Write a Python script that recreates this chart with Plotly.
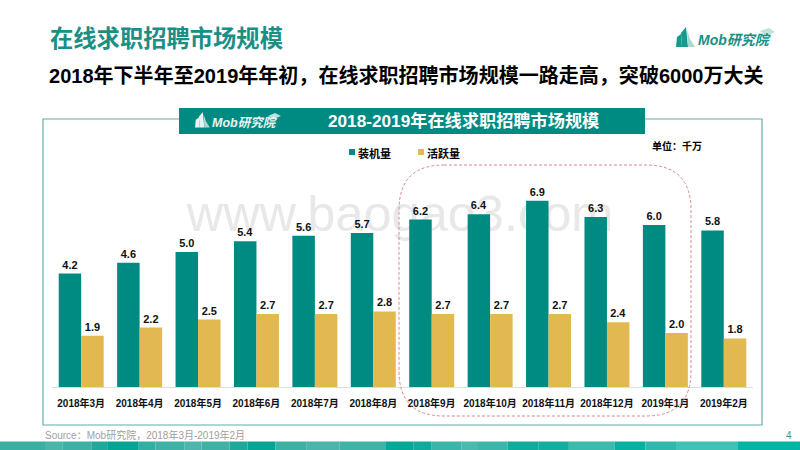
import plotly.graph_objects as go

months = ["2018年3月","2018年4月","2018年5月","2018年6月","2018年7月","2018年8月","2018年9月","2018年10月","2018年11月","2018年12月","2019年1月","2019年2月"]
installed = [4.2,4.6,5.0,5.4,5.6,5.7,6.2,6.4,6.9,6.3,6.0,5.8]
active = [1.9,2.2,2.5,2.7,2.7,2.8,2.7,2.7,2.7,2.4,2.0,1.8]
series_names = ["装机量","活跃量"]

W, H = 800, 450
TEAL = "#008b82"; GOLD = "#e2b850"; FONT = "Liberation Sans, Noto Sans CJK SC, sans-serif"
def X(p): return p / W
def Y(p): return 1 - p / H

fig = go.Figure()
fig.add_bar(x=months, y=installed, name=series_names[0], marker_color=TEAL, text=[f"{v:.1f}" for v in installed], showlegend=False)
fig.add_bar(x=months, y=active, name=series_names[1], marker_color=GOLD, text=[f"{v:.1f}" for v in active], showlegend=False)
fig.update_traces(textposition="outside", cliponaxis=False, textfont=dict(size=11, color="#111", family=FONT, weight="bold"), marker_line_width=0)

shapes, ann = [], []
def rect(x0, y0, x1, y1, fill=None, line=None, lw=1, layer="below", **kw):
    shapes.append(dict(type="rect", xref="paper", yref="paper", x0=X(x0), x1=X(x1), y0=Y(y0), y1=Y(y1),
                       fillcolor=fill or "rgba(0,0,0,0)", line=dict(color=line or "rgba(0,0,0,0)", width=lw if line else 0), layer=layer, **kw))
def text(t, x, y, size, color="#000", bold=True, anchor="left", italic=False):
    ann.append(dict(text=t, xref="paper", yref="paper", x=X(x - (2 if anchor == "left" else 0)), y=Y(y), xanchor=anchor, yanchor="middle", showarrow=False,
                    font=dict(size=size, color=color, family=FONT, weight="bold" if bold else "normal", style="italic" if italic else "normal")))
def poly(pts, fill):
    d = "M" + " L".join(f"{X(a):.5f},{Y(b):.5f}" for a, b in pts) + " Z"
    shapes.append(dict(type="path", xref="paper", yref="paper", path=d, fillcolor=fill, line=dict(width=0), layer="above"))

# watermark (behind the bars)
rect(180, 184, 620, 234, layer="below", label=dict(text="www.baogao3.com", textposition="middle center",
     font=dict(size=50.5, color="#e8e8e8", family=FONT)))

# panel frame
rect(43, 119, 762, 425, line="#62aeaa", lw=1.2)
rect(179, 108, 645, 134, fill=TEAL, layer="above")
text("2018-2019年在线求职招聘市场规模", 464, 121, 17.2, "#fff", anchor="center")

# bottom band
band_edges = [0,90,122,180,210,272,305,362,395,450,485,540,600,665,755,810,845,905,935,995,1055,1115,1205,1265,1325,1445,1568]
band_cols = ["#3aafa3","#4cb5aa","#3eb0a4","#1fa89b","#05a596","#33aea2","#3fb1a5","#4db5ab","#3fb1a5","#1fa99b","#06a697","#3cb2a6","#4bb5ab","#40b3a7","#03a898","#12aa9c","#3ab5a9","#4bb9ae","#3cb6aa","#0dac9d","#12ae9f","#3bbaae","#07b0a1","#2fb9ac","#40c2b6","#04b4a5"]
for i, c in enumerate(band_cols):
    rect(band_edges[i]*W/1568, 441.5, band_edges[i+1]*W/1568, 450, fill=c)

# highlight rounded box
x0, x1, y0, y1, r = 399, 691, 165, 416, 45
path = (f"M{X(x0+r)},{Y(y0)} L{X(x1-r)},{Y(y0)} Q{X(x1)},{Y(y0)} {X(x1)},{Y(y0+r)} L{X(x1)},{Y(y1-r)} Q{X(x1)},{Y(y1)} {X(x1-r)},{Y(y1)} "
        f"L{X(x0+r)},{Y(y1)} Q{X(x0)},{Y(y1)} {X(x0)},{Y(y1-r)} L{X(x0)},{Y(y0+r)} Q{X(x0)},{Y(y0)} {X(x0+r)},{Y(y0)} Z")
shapes.append(dict(type="path", xref="paper", yref="paper", path=path, line=dict(color="#d9898c", width=1, dash="3px,2px"), layer="above"))

# legend
rect(349, 149, 355, 155, fill=TEAL, layer="above")
rect(418, 149, 424, 155, fill=GOLD, layer="above")
text(series_names[0], 358, 153, 11)
text(series_names[1], 427, 153, 11)
text("单位：千万", 652, 146, 10)

# headings
text("在线求职招聘市场规模", 49.5, 39, 23.3, "#1a8f86")
text("2018年下半年至2019年年初，在线求职招聘市场规模一路走高，突破6000万大关", 49, 76, 20.05)
text("Source：Mob研究院，2018年3月-2019年2月", 45, 435, 10, "#a0a0a0", bold=False)
text("4", 789, 435, 10, "#4f8f8b", bold=False, anchor="center")

# logos
def logo(ox, oy, s, c1, c2, txtcol, size):
    poly([(ox, oy+20*s),(ox+1*s, oy+10*s),(ox+5*s, oy+7*s),(ox+6*s, oy+20*s)], c1)
    poly([(ox+5*s, oy+6*s),(ox+10*s, oy),(ox+12*s, oy+20*s),(ox+6*s, oy+20*s)], c1)
    poly([(ox+11*s, oy+3*s),(ox+14*s, oy+12*s),(ox+19*s, oy+20*s),(ox+12*s, oy+20*s)], c2)
    text("Mob研究院", ox+22*s, oy+13.5*s, size, txtcol, italic=True)
logo(676, 27, 1, "#159a8e", "#a7d8d2", "#1a8f86", 14)
poly([(760,31),(769,28),(775,32),(766,36)], "#bfe0dc")
logo(195, 112, 0.78, "#e6f3f2", "#a7d8d2", "#e8f5f3", 12.5)
poly([(268,116),(275,113),(281,116),(273,119)], "#bfe0dc")

fig.update_layout(
    width=W, height=H, autosize=False, margin=dict(l=0, r=0, t=0, b=0),
    paper_bgcolor="#fff", plot_bgcolor="rgba(0,0,0,0)",
    barmode="group", bargap=0.23, bargroupgap=0, showlegend=False,
    font=dict(family=FONT), shapes=shapes, annotations=ann,
    xaxis=dict(domain=[X(52), X(753)], type="category", tickfont=dict(size=10, color="#111", family=FONT, weight="bold"),
               ticks="", showline=True, linecolor="#dddddd", linewidth=1, showgrid=False, tickangle=0, ticklabelstandoff=7),
    yaxis=dict(domain=[Y(387), Y(140)], range=[0, 247/27], visible=False, showgrid=False, zeroline=False),
)
fig.write_html("out.html", config=dict(displayModeBar=False), post_script="document.body.style.margin='0';document.body.style.overflow='hidden';")
